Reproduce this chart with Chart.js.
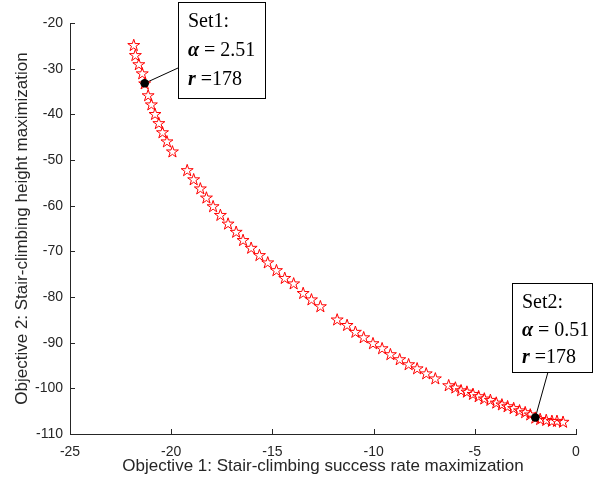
<!DOCTYPE html>
<html>
<head>
<meta charset="utf-8">
<script src="https://cdn.jsdelivr.net/npm/chart.js@4.4.1/dist/chart.umd.min.js"></script>
<style>html,body{margin:0;padding:0;background:#fff}</style>
</head>
<body>
<canvas id="paretoChart" width="596" height="492"></canvas>
<script>
// Pareto front (Objective 1, Objective 2)
const frontX = [
    -21.85, -21.77, -21.60, -21.43, -21.31, -21.14, -20.98, -20.80, -20.61, -20.43, -20.21, -19.94,
    -19.21, -18.89, -18.56, -18.26, -17.93, -17.57, -17.19, -16.79, -16.45, -16.05, -15.64, -15.23, -14.80, -14.39,
    -13.95, -13.48, -13.07, -12.63,
    -11.80, -11.31, -10.90, -10.49, -10.03, -9.58, -9.17, -8.71, -8.27, -7.85, -7.40, -6.95,
    -6.29, -5.96, -5.68, -5.39, -5.09, -4.81, -4.53, -4.23, -3.94, -3.66, -3.38, -3.08, -2.79, -2.51, -2.26,
    -2.01, -1.77, -1.47, -1.19, -0.94, -0.64
];
const frontY = [
    -24.8, -27.0, -29.0, -31.0, -33.2, -35.8, -37.8, -39.9, -41.9, -43.9, -45.9, -48.1,
    -52.2, -54.2, -56.2, -58.2, -60.1, -62.0, -63.9, -65.7, -67.5, -69.2, -70.8, -72.4, -74.1, -75.8,
    -77.0, -79.1, -80.5, -82.0,
    -84.9, -86.1, -87.6, -88.8, -90.1, -91.2, -92.5, -93.6, -94.7, -95.6, -96.7, -97.8,
    -99.3, -99.8, -100.4, -100.7, -101.2, -101.7, -102.2, -102.5, -103.1, -103.5, -103.9, -104.3, -104.8, -105.2, -105.7,
    -106.4, -106.7, -106.9, -107.1, -107.1, -107.3
];

// selected parameter sets
const setNames = ['Set1:', 'Set2:'];
const setX = [-21.31, -2.01];
const setY = [-33.2, -106.4];
const setAlpha = ['2.51', '0.51'];
const setR = ['178', '178'];

const xTicks = [-25, -20, -15, -10, -5, 0];
const yTicks = [-110, -100, -90, -80, -70, -60, -50, -40, -30, -20];

const axisColor = '#262626';
const sansFont = '"Liberation Sans", Arial, sans-serif';

// text boxes (pixels), the first text line offset, line spacing and where the leader line leaves the box
const boxes = [
    { left: 178, top: 2, right: 265, bottom: 98, first: 20, step: 29, lineX: 178, lineY: 68 },
    { left: 512, top: 283, right: 592, bottom: 372, first: 20, step: 27.5, lineX: 548, lineY: 372 }
];

// open red pentagrams drawn on the positions computed by the chart
const starMarkers = {
    id: 'starMarkers',
    afterDatasetDraw(chart, args) {
        if (args.index !== 0) return;
        const c = chart.ctx;
        const r = 6.3;
        c.save();
        c.strokeStyle = '#ff0000';
        c.lineWidth = 1;
        args.meta.data.forEach(pt => {
            c.beginPath();
            for (let i = 0; i < 10; i++) {
                const rad = i % 2 === 0 ? r : r * 0.382;
                const a = -Math.PI / 2 + i * Math.PI / 5;
                const px = pt.x + rad * Math.cos(a);
                const py = pt.y + 0.6 + rad * Math.sin(a);
                if (i === 0) c.moveTo(px, py); else c.lineTo(px, py);
            }
            c.closePath();
            c.stroke();
        });
        c.restore();
    }
};

const insideTicks = {
    id: 'insideTicks',
    afterDraw(chart) {
        const c = chart.ctx, a = chart.chartArea;
        const xs = chart.scales.x, ys = chart.scales.y;
        c.save();
        c.strokeStyle = axisColor;
        c.lineWidth = 1;
        c.beginPath();
        xTicks.forEach(v => {
            const px = Math.round(xs.getPixelForValue(v)) + 0.5;
            c.moveTo(px, a.bottom); c.lineTo(px, a.bottom - 5);
        });
        yTicks.forEach(v => {
            const py = Math.round(ys.getPixelForValue(v)) + 0.5;
            c.moveTo(a.left, py); c.lineTo(a.left + 5, py);
        });
        c.stroke();
        c.restore();
    }
};

const callouts = {
    id: 'callouts',
    beforeDatasetsDraw(chart) {
        const c = chart.ctx;
        c.save();
        c.strokeStyle = '#000';
        c.lineWidth = 1;
        boxes.forEach((b, i) => {
            c.beginPath();
            c.moveTo(b.lineX, b.lineY);
            c.lineTo(chart.scales.x.getPixelForValue(setX[i]), chart.scales.y.getPixelForValue(setY[i]));
            c.stroke();
        });
        c.restore();
    },
    afterDraw(chart) {
        const c = chart.ctx;
        c.save();
        boxes.forEach((b, i) => {
            c.fillStyle = '#fff';
            c.fillRect(b.left, b.top, b.right - b.left, b.bottom - b.top);
            c.strokeStyle = '#000';
            c.lineWidth = 1;
            c.strokeRect(b.left + 0.5, b.top + 0.5, b.right - b.left, b.bottom - b.top);

            const tx = b.left + 10;
            const y0 = b.top + b.first;
            c.fillStyle = '#000';
            c.textBaseline = 'middle';
            const reg = '20px "Liberation Serif", "Times New Roman", serif';
            const bi = 'italic bold 20px "Liberation Serif", "Times New Roman", serif';

            c.font = reg;
            c.fillText(setNames[i], tx, y0);

            let x = tx;
            c.font = bi;
            c.fillText('\u03b1', x, y0 + b.step);
            x += c.measureText('\u03b1').width;
            c.font = reg;
            c.fillText(' = ' + setAlpha[i], x, y0 + b.step);

            x = tx;
            c.font = bi;
            c.fillText('r', x, y0 + 2 * b.step);
            x += c.measureText('r').width;
            c.font = reg;
            c.fillText(' =' + setR[i], x, y0 + 2 * b.step);
        });
        c.restore();
    }
};

const ctx = document.getElementById('paretoChart').getContext('2d');
const paretoChart = new Chart(ctx, {
    type: 'scatter',
    data: {
        datasets: [{
            label: 'Pareto front',
            data: frontX.map((x, i) => ({ x: x, y: frontY[i] })),
            pointRadius: 0,
            clip: false,
            order: 2
        }, {
            label: 'Selected sets',
            data: setX.map((x, i) => ({ x: x, y: setY[i] })),
            pointStyle: 'circle',
            pointRadius: 4.3,
            backgroundColor: '#000',
            borderColor: '#000',
            borderWidth: 0,
            clip: false,
            order: 1
        }]
    },
    options: {
        responsive: false,
        animation: false,
        events: [],
        layout: { padding: { top: 23, right: 20, bottom: 0, left: 0 } },
        plugins: { legend: { display: false }, tooltip: { enabled: false } },
        scales: {
            x: {
                type: 'linear',
                min: -25, max: 0,
                afterBuildTicks: s => { s.ticks = xTicks.map(v => ({ value: v })); },
                afterFit: s => { s.height = 58; },
                grid: { display: false, drawTicks: false },
                border: { display: true, color: axisColor, width: 1 },
                ticks: { color: axisColor, padding: 10, maxRotation: 0, font: { family: sansFont, size: 14 } },
                title: {
                    display: true,
                    text: 'Objective 1: Stair-climbing success rate maximization',
                    color: axisColor,
                    padding: { top: 0, bottom: 15 },
                    font: { family: sansFont, size: 17 }
                }
            },
            y: {
                type: 'linear',
                min: -110, max: -20,
                afterBuildTicks: s => { s.ticks = yTicks.map(v => ({ value: v })); },
                afterFit: s => { s.width = 70; },
                grid: { display: false, drawTicks: false },
                border: { display: true, color: axisColor, width: 1 },
                ticks: { color: axisColor, padding: 7, font: { family: sansFont, size: 14 } },
                title: {
                    display: true,
                    text: 'Objective 2: Stair-climbing height maximization',
                    color: axisColor,
                    padding: { top: 12, bottom: 12 },
                    font: { family: sansFont, size: 17 }
                }
            }
        }
    },
    plugins: [starMarkers, insideTicks, callouts]
});
</script>
</body>
</html>
